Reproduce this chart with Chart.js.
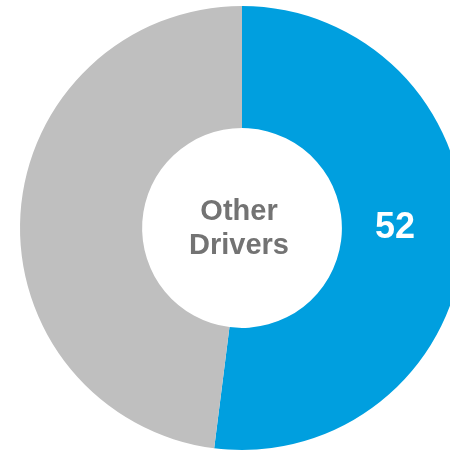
<!DOCTYPE html>
<html>
<head>
<meta charset="utf-8">
<script src="https://cdn.jsdelivr.net/npm/chart.js@4/dist/chart.umd.min.js"></script>
<style>
    html, body { margin: 0; padding: 0; background: #fff; overflow: hidden; }
    #wrap { width: 450px; height: 451px; overflow: hidden; position: relative; }
    canvas { position: absolute; left: 0; top: 0; }
</style>
</head>
<body>
<div id="wrap">
    <canvas id="driversChart" width="484" height="456"></canvas>
</div>
<script>
const categories = ['Other Drivers', 'Rest'];
const values = [52, 48];
const colors = ['#009FDF', '#BFBFBF'];
const centerLines = ['Other', 'Drivers'];

// Writes the title in the hole and the value inside the blue ring segment
const donutText = {
    id: 'donutText',
    afterDatasetsDraw(chart) {
        const ctx = chart.ctx;
        const arc = chart.getDatasetMeta(0).data[0];
        const cx = arc.x, cy = arc.y;

        ctx.save();
        ctx.textAlign = 'center';
        ctx.textBaseline = 'middle';
        ctx.fillStyle = '#737373';
        ctx.font = 'bold 29px "Liberation Sans", Arial, sans-serif';
        ctx.fillText(centerLines[0], cx - 3, cy - 16);
        ctx.fillText(centerLines[1], cx - 3, cy + 18);

        const mid = (arc.startAngle + arc.endAngle) / 2 - 0.06;
        const r = (arc.innerRadius + arc.outerRadius) / 2 - 8;
        ctx.fillStyle = '#ffffff';
        ctx.font = 'bold 36px "Liberation Sans", Arial, sans-serif';
        ctx.fillText(String(values[0]), cx + Math.cos(mid) * r, cy + Math.sin(mid) * r);
        ctx.restore();
    }
};

new Chart(document.getElementById('driversChart'), {
    type: 'doughnut',
    data: {
        labels: categories,
        datasets: [{
            data: values,
            backgroundColor: colors,
            borderWidth: 0
        }]
    },
    options: {
        responsive: false,
        animation: false,
        cutout: '45%',
        layout: { padding: { top: 6, bottom: 6 } },
        plugins: {
            legend: { display: false },
            tooltip: { enabled: false }
        }
    },
    plugins: [donutText]
});
</script>
</body>
</html>
